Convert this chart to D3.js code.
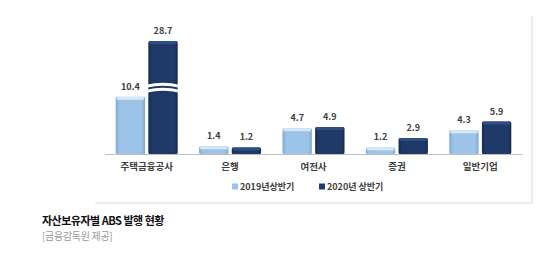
<!DOCTYPE html>
<html>
<head>
<meta charset="utf-8">
<script src="https://cdn.jsdelivr.net/npm/d3@7"></script>
<style>
  body { margin: 0; background: #fff; }
  svg { display: block; font-family: "Noto Sans CJK KR", "Noto Sans", sans-serif; }
</style>
</head>
<body>
<svg id="chart" width="560" height="256"></svg>
<script>
// data
const categories = ['주택금융공사', '은행', '여전사', '증권', '일반기업'];
const seriesNames = ['2019년상반기', '2020년 상반기'];
const values2019 = [10.4, 1.4, 4.7, 1.2, 4.3];
const values2020 = [28.7, 1.2, 4.9, 2.9, 5.9];
const title = '자산보유자별 ABS 발행 현황';
const source = '[금융감독원 제공]';

const svg = d3.select('#chart');
const baseline = 154;
const left = 105, right = 522;

const x0 = d3.scaleBand().domain(categories).range([left, right]);
const x1 = d3.scaleBand().domain([0, 1]).range([0, 62]).paddingInner(0.1);
// broken axis: top part compressed
const y = d3.scaleLinear().domain([0, 14, 28.7]).range([baseline, 77, 41]);

const colors = ['#9cc3e8', '#1f3a68'];
const tops = ['#d4e8f8', '#2d4f85'];
const edges = ['#7ea9d4', '#152a4e'];

const defs = svg.append('defs');
colors.forEach((c, i) => {
  const g = defs.append('linearGradient').attr('id', 'g' + i)
    .attr('x1', 0).attr('x2', 1).attr('y1', 0).attr('y2', 0);
  g.append('stop').attr('offset', '0%').attr('stop-color', edges[i]);
  g.append('stop').attr('offset', '12%').attr('stop-color', c);
  g.append('stop').attr('offset', '88%').attr('stop-color', c);
  g.append('stop').attr('offset', '100%').attr('stop-color', edges[i]);
});

// frame
svg.append('line').attr('x1', 532).attr('x2', 532).attr('y1', 16).attr('y2', 203)
  .attr('stroke', '#dcdcdc');
svg.append('line').attr('x1', 95).attr('x2', 532).attr('y1', 203).attr('y2', 203)
  .attr('stroke', '#dcdcdc');

const rows = categories.map((c, i) => ({ cat: c, vals: [values2019[i], values2020[i]] }));

const groups = svg.selectAll('g.grp').data(rows).enter().append('g')
  .attr('transform', d => `translate(${x0(d.cat) + (x0.bandwidth() - 62) / 2},0)`);

const bars = groups.selectAll('g.bar').data(d => d.vals.map((v, s) => ({ v, s }))).enter().append('g');

bars.append('rect')
  .attr('x', d => x1(d.s))
  .attr('y', d => y(d.v))
  .attr('width', x1.bandwidth())
  .attr('height', d => baseline - y(d.v))
  .attr('rx', 1.5)
  .attr('fill', d => `url(#g${d.s})`);

// top highlight
bars.append('rect')
  .attr('x', d => x1(d.s) + 1)
  .attr('y', d => y(d.v))
  .attr('width', x1.bandwidth() - 2)
  .attr('height', 3)
  .attr('fill', d => tops[d.s]);

// break mark on the tall bar
function breakPath(d, v) {
  const xa = x1(d.s) - 2, xb = x1(d.s) + x1.bandwidth() + 2;
  const yb = y(v);
  return `M${xa},${yb} Q${(xa + xb) / 2},${yb - 4} ${xb},${yb} L${xb},${yb + 3} Q${(xa + xb) / 2},${yb - 1} ${xa},${yb + 3} Z`;
}
[12.6, 11.7].forEach(v => {
  bars.filter(d => d.v > 14).append('path')
    .attr('d', d => breakPath(d, v))
    .attr('fill', '#fff');
});

// value labels
bars.append('text')
  .attr('x', d => x1(d.s) + x1.bandwidth() / 2)
  .attr('y', d => y(d.v) - 7)
  .attr('text-anchor', 'middle')
  .style('font-size', '9px')
  .style('font-weight', 'bold')
  .attr('fill', '#404040')
  .text(d => d.v.toFixed(1));

// axis
const axis = svg.append('g').attr('transform', `translate(0,${baseline})`)
  .call(d3.axisBottom(x0).tickSize(0).tickPadding(9));
axis.select('.domain').attr('stroke', '#bfbfbf');
axis.selectAll('text').style('font-size', '9.5px').style('font-weight', 'bold')
  .attr('fill', '#404040').style('font-family', '"Noto Sans CJK KR", sans-serif');

// legend
const legendX = [232, 319];
const lg = svg.selectAll('g.lg').data(seriesNames).enter().append('g')
  .attr('transform', (d, i) => `translate(${legendX[i]},187)`);
lg.append('rect').attr('x', 0).attr('y', -3.5).attr('width', 6).attr('height', 6)
  .attr('fill', (d, i) => colors[i]);
lg.append('text').attr('x', 8).attr('y', 0).attr('dy', '0.35em')
  .style('font-size', '9px').style('font-weight', 'bold').attr('fill', '#404040')
  .text(d => d);

// caption
svg.append('text').attr('x', 42).attr('y', 221).attr('dy', '0.35em')
  .style('font-size', '11px').style('font-weight', 'bold').attr('fill', '#111')
  .style('letter-spacing', '-0.5px')
  .text(title);
svg.append('text').attr('x', 42).attr('y', 236).attr('dy', '0.35em')
  .style('font-size', '10px').attr('fill', '#999')
  .style('letter-spacing', '-0.3px')
  .text(source);
</script>
</body>
</html>
